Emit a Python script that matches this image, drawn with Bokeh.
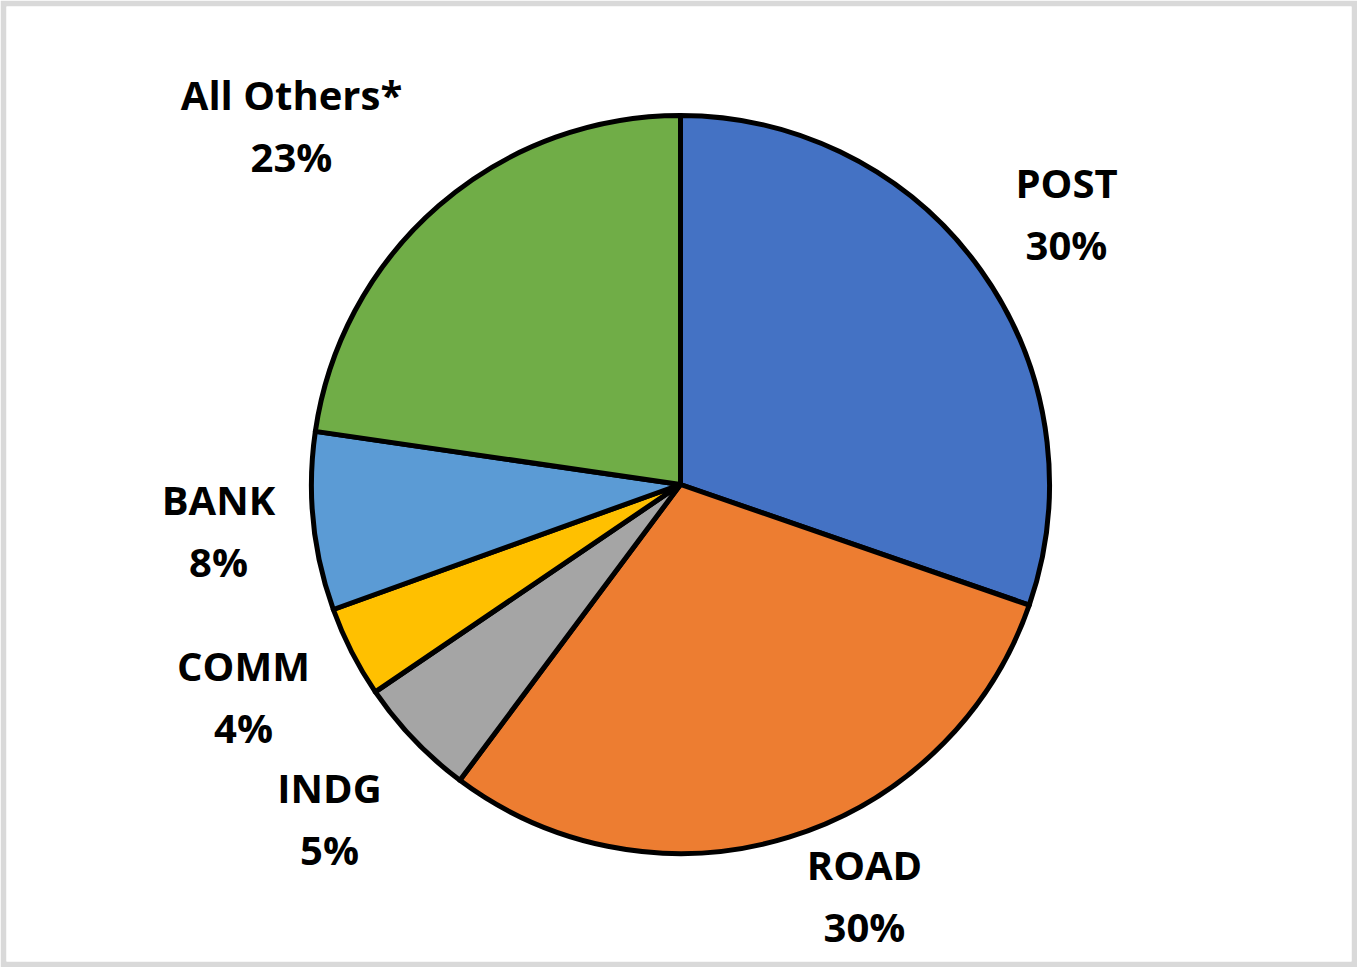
import math
from bokeh.plotting import figure
from bokeh.models import Range1d, ColumnDataSource
from bokeh.core.properties import value
from bokeh.embed import file_html
from bokeh.resources import INLINE

# ---- data ----
categories = ["POST", "ROAD", "INDG", "COMM", "BANK", "All Others*"]
shares = [30.3, 29.9, 5.3, 4.0, 7.8, 22.7]
colors = ["#4472C4", "#ED7D31", "#A5A5A5", "#FFC000", "#5B9BD5", "#70AD47"]

# ---- layout (pixel space of the plot frame) ----
W, H = 1357, 967
B = 6
FW, FH = W - 2 * B, H - 2 * B
def px(x):  # page x -> data x
    return x - B
def py(y):  # page y -> data y
    return (H - B) - y

cx, cy, r = px(680), py(484), 369
label_pos = {
    "POST": (1066, 182),
    "ROAD": (864, 864),
    "INDG": (329, 787),
    "COMM": (243, 665),
    "BANK": (218, 499),
    "All Others*": (291, 94),
}
line_gap = 62

total = sum(shares)
starts, ends = [], []
acc = 0.0
for s in shares:
    starts.append(math.pi / 2 - 2 * math.pi * acc / total)
    acc += s
    ends.append(math.pi / 2 - 2 * math.pi * acc / total)

src = ColumnDataSource(dict(cat=categories, start=starts, end=ends, color=colors))

p = figure(width=W, height=H, output_backend="svg", toolbar_location=None,
           x_range=Range1d(0, FW), y_range=Range1d(0, FH),
           min_border=B, min_border_left=B, min_border_right=B,
           min_border_top=B, min_border_bottom=B)
p.axis.visible = False
p.grid.visible = False
p.outline_line_color = None
p.border_fill_color = "#D9D9D9"
p.background_fill_color = "white"

p.wedge(x=cx, y=cy, radius=r, start_angle="start", end_angle="end",
        direction="clock", fill_color="color", line_color="black",
        line_width=5, line_join="round", source=src)

names_x, names_y, pct_x, pct_y, pct_txt = [], [], [], [], []
for c, s in zip(categories, shares):
    x, y = label_pos[c]
    names_x.append(px(x)); names_y.append(py(y))
    pct_x.append(px(x)); pct_y.append(py(y + line_gap))
    pct_txt.append(f"{round(s / total * 100)}%")

p.text(x=names_x, y=names_y, text=categories, text_align="center",
       text_baseline="middle", text_font=value("Open Sans"), text_font_style="bold",
       text_font_size="40px", text_color="black")
p.text(x=pct_x, y=pct_y, text=pct_txt, text_align="center",
       text_baseline="middle", text_font=value("Open Sans"), text_font_style="bold",
       text_font_size="40px", text_color="black")

open("out.html", "w").write(file_html(p, INLINE))
